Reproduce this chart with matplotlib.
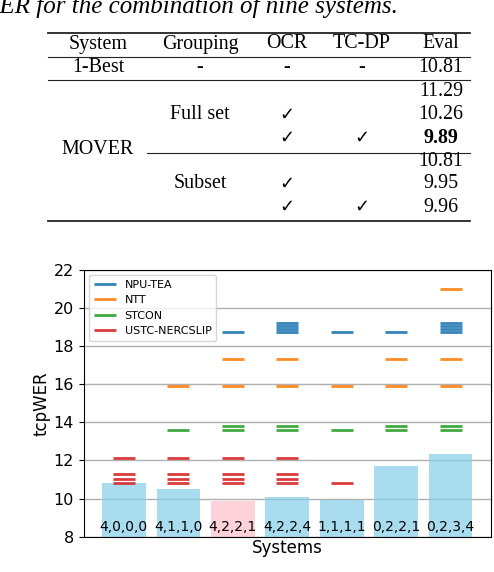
import matplotlib
matplotlib.use("Agg")
import matplotlib.pyplot as plt

# ---------------- data ----------------
caption = "tcpWER for the combination of nine systems."
tab_header = ["System", "Grouping", "OCR", "TC-DP", "Eval"]
best_row = ["1-Best", "-", "-", "-", "10.81"]
mover_groups = ["Full set", "Subset"]
mover_ocr = [["", "\u2713", "\u2713"], ["", "\u2713", "\u2713"]]
mover_tcdp = [["", "", "\u2713"], ["", "", "\u2713"]]
mover_eval = [["11.29", "10.26", "9.89"], ["10.81", "9.95", "9.96"]]

systems = ["4,0,0,0", "4,1,1,0", "4,2,2,1", "4,2,2,4", "1,1,1,1", "0,2,2,1", "0,2,3,4"]
combo_wer = [10.81, 10.52, 9.89, 10.10, 9.93, 11.72, 12.34]
best_idx = 2
npu_tea = [[], [], [18.72], [19.22, 19.05, 18.89, 18.72], [18.72], [18.72],
           [19.22, 19.05, 18.89, 18.72]]
ntt = [[], [15.90], [17.33, 15.90], [17.33, 15.90], [15.90], [17.33, 15.90],
       [21.00, 17.33, 15.90]]
stcon = [[], [13.59], [13.80, 13.59], [13.80, 13.59], [13.59], [13.80, 13.59],
         [13.80, 13.59]]
ustc = [[12.14, 11.29, 11.04, 10.83], [12.14, 11.29, 11.04, 10.83],
        [12.14, 11.29, 11.04, 10.83], [12.14, 11.29, 11.04, 10.83], [10.83], [], []]
series_names = ["NPU-TEA", "NTT", "STCON", "USTC-NERCSLIP"]
series_vals = [npu_tea, ntt, stcon, ustc]
series_colors = ["#1f77b4", "#ff7f0e", "#2ca02c", "#d62728"]

# ---------------- figure ----------------
W, H = 494, 572
fig = plt.figure(figsize=(W / 100, H / 100), dpi=100)

# ---- table (top region, pixel coordinates) ----
TH = 232
axt = fig.add_axes([0, 1 - TH / H, 1, TH / H])
axt.set_xlim(0, W)
axt.set_ylim(TH, 0)
axt.axis("off")
serif = ["Liberation Serif", "DejaVu Sans"]
fs = 14.4
axt.text(398, 13.5, caption, ha="right", va="baseline", fontsize=18,
         style="italic", family=serif)

x0, x1 = 48, 470
cols = [98, 200, 287, 362, 441]
rule_c = "#222222"
axt.plot([x0, x1], [32.5, 32.5], color=rule_c, lw=1.3)
axt.plot([x0, x1], [56.7, 56.7], color=rule_c, lw=0.8)
axt.plot([x0, x1], [80, 80], color=rule_c, lw=0.8)
axt.plot([147, x1], [152.7, 152.7], color=rule_c, lw=0.8)
axt.plot([x0, x1], [220.5, 220.5], color=rule_c, lw=1.3)

for c, t in zip(cols, tab_header):
    axt.text(c, 44, t, ha="center", va="center", fontsize=fs, family=serif)
for c, t in zip(cols, best_row):
    axt.text(c, 67.5, t, ha="center", va="center", fontsize=fs, family=serif)

row_y = [[91, 114.5, 138], [161, 184, 207]]
axt.text(cols[0], 150, "MOVER", ha="center", va="center", fontsize=fs, family=serif)
for g in range(2):
    axt.text(cols[1], row_y[g][1], mover_groups[g], ha="center", va="center",
             fontsize=fs, family=serif)
    for r in range(3):
        y = row_y[g][r]
        axt.text(cols[2], y, mover_ocr[g][r], ha="center", va="center",
                 fontsize=13, family=["DejaVu Sans"])
        axt.text(cols[3], y, mover_tcdp[g][r], ha="center", va="center",
                 fontsize=13, family=["DejaVu Sans"])
        bold = (g == 0 and r == 2)
        axt.text(cols[4], y, mover_eval[g][r], ha="center", va="center",
                 fontsize=fs, family=serif, weight="bold" if bold else "normal")

# ---- chart ----
ax = fig.add_axes([83.5 / W, 1 - 536.7 / H, (491 - 83.5) / W, (536.7 - 269.7) / H])
x = list(range(len(systems)))
bar_colors = ["pink" if i == best_idx else "skyblue" for i in x]
ax.bar(x, combo_wer, width=0.8, color=bar_colors, alpha=0.7, zorder=1)
for name, vals, col in zip(series_names, series_vals, series_colors):
    first = True
    for i, vs in enumerate(vals):
        for v in vs:
            ax.hlines(v, i - 0.2, i + 0.2, color=col, lw=2, alpha=0.9, zorder=3,
                      label=name if first else None)
            first = False
for i, s in enumerate(systems):
    ax.text(i, 8.49, s, ha="center", va="center", fontsize=10, zorder=4)

ax.set_ylim(8, 22)
ax.set_yticks(range(8, 23, 2))
ax.set_xticks([])
ax.tick_params(axis="y", labelsize=11.5)
ax.yaxis.grid(True, color="#b0b0b0", lw=1)
ax.set_axisbelow(True)
ax.set_xlabel("Systems", fontsize=12, labelpad=2)
ax.set_ylabel("tcpWER", fontsize=12, labelpad=2)
ax.legend(loc="upper left", fontsize=8)

fig.savefig("out.png", dpi=100)
